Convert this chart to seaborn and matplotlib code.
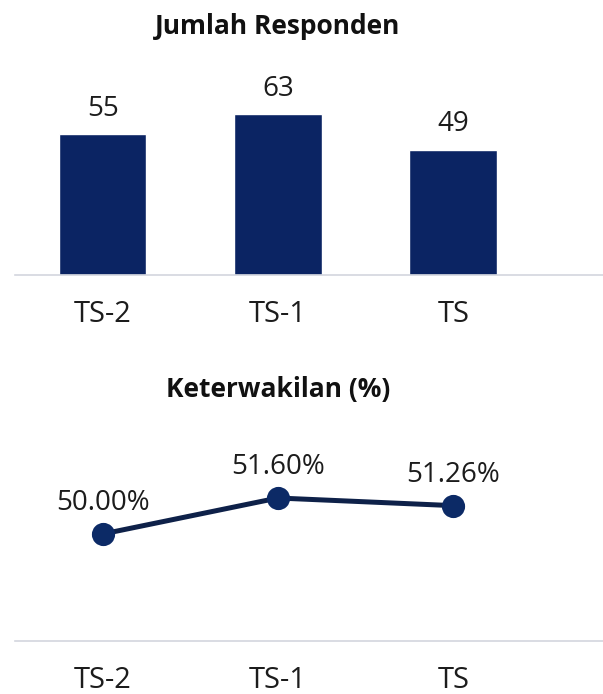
import matplotlib
matplotlib.use("Agg")
import matplotlib.pyplot as plt
import seaborn as sns
import pandas as pd

periods = ["TS-2", "TS-1", "TS"]
respondents = [55, 63, 49]
representation = [50.00, 51.60, 51.26]
rep_labels = ["50.00%", "51.60%", "51.26%"]

sns.set_theme(style="white")
plt.rcParams['font.family'] = ['Open Sans', 'DejaVu Sans']

W, H = 603, 694
fig = plt.figure(figsize=(W/100, H/100), dpi=100)
fig.patch.set_facecolor("white")

bar_color = "#0b2463"
line_color = "#0e2149"
marker_color = "#0c2a66"
axis_color = "#d3d6de"
text_color = "#1c1c1c"

# Top axes: baseline at y=275 px, x from 15 to 603
ax1 = fig.add_axes([15/W, 1-275/H, 1-15/W, (275-60)/H])
df1 = pd.DataFrame({"period": periods, "n": respondents})
sns.barplot(data=df1, x="period", y="n", color=bar_color, width=0.5, ax=ax1, saturation=1)
ax1.set_xlim(-0.5, 2.854)
ax1.set_ylim(0, (275-60)/2.56)
for i, v in enumerate(respondents):
    ax1.annotate(str(v), (i, v), xytext=(0, 8), textcoords="offset points",
                 ha="center", va="bottom", fontsize=20, color=text_color)
ax1.set_xlabel("")
ax1.set_ylabel("")
ax1.set_yticks([])
for s in ["top", "right", "left"]:
    ax1.spines[s].set_visible(False)
ax1.spines["bottom"].set_color(axis_color)
ax1.spines["bottom"].set_linewidth(1.2)
ax1.tick_params(axis="x", length=0, pad=18, labelsize=21, labelcolor=text_color)
fig.text(278/W, 1-27/H, "Jumlah Responden", ha="center", va="center",
         fontsize=19, fontweight="bold", color="#111111")

# Bottom axes: baseline at y=641 px
top_px = 420
ax2 = fig.add_axes([15/W, 1-641/H, 1-15/W, (641-top_px)/H])
df2 = pd.DataFrame({"period": periods, "pct": representation})
sns.pointplot(data=df2, x="period", y="pct", color=marker_color, ax=ax2,
              markersize=14, linewidth=3.6)
ax2.lines[0].set_color(line_color)
ax2.lines[0].set_markerfacecolor(marker_color)
ax2.lines[0].set_markeredgecolor(marker_color)
ax2.set_xlim(-0.5, 2.854)
scale = 22.5
ax2.set_ylim(50 - (641-534)/scale, 50 + (534-top_px)/scale)
for i, (v, lab) in enumerate(zip(representation, rep_labels)):
    ax2.annotate(lab, (i, v), xytext=(0, 12), textcoords="offset points",
                 ha="center", va="bottom", fontsize=20, color=text_color)
ax2.set_xlabel("")
ax2.set_ylabel("")
ax2.set_yticks([])
for s in ["top", "right", "left"]:
    ax2.spines[s].set_visible(False)
ax2.spines["bottom"].set_color(axis_color)
ax2.spines["bottom"].set_linewidth(1.2)
ax2.tick_params(axis="x", length=0, pad=18, labelsize=21, labelcolor=text_color)
fig.text(278/W, 1-390/H, "Keterwakilan (%)", ha="center", va="center",
         fontsize=19, fontweight="bold", color="#111111")

fig.savefig("out.png", dpi=100, facecolor="white")
